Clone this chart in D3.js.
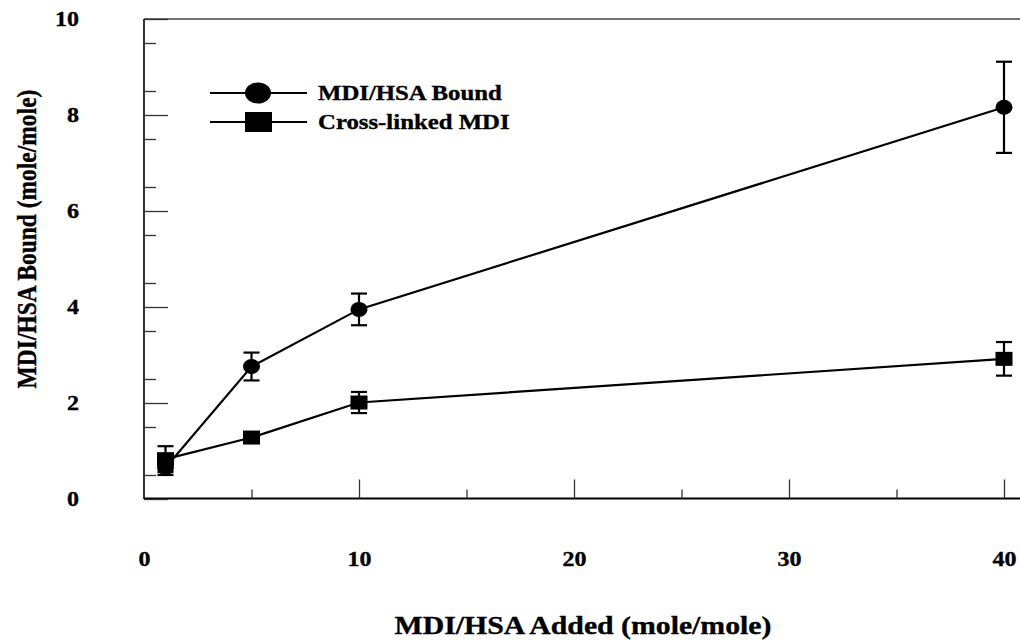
<!DOCTYPE html>
<html>
<head>
<meta charset="utf-8">
<script src="https://cdn.jsdelivr.net/npm/d3@7"></script>
<style>
  html, body { margin: 0; padding: 0; background: #fff; }
  svg { display: block; }
  text { font-family: "Liberation Serif", "Times New Roman", serif; font-weight: bold; fill: #000; stroke: #000; stroke-width: 0.35px; }
</style>
</head>
<body>
<script>
// MDI added per HSA (mole/mole)
const xAdded = [1, 5, 10, 40];
// MDI/HSA bound, mean and error
const boundMean = [0.65, 2.76, 3.95, 8.16];
const boundErr  = [0.15, 0.29, 0.33, 0.95];
// Cross-linked MDI, mean and error
const crossMean = [0.83, 1.28, 2.01, 2.92];
const crossErr  = [0.27, 0.08, 0.22, 0.35];

const xMajorTicks = [0, 10, 20, 30, 40];
const xMinorTicks = [5, 15, 25, 35];
const yMajorTicks = [0, 2, 4, 6, 8, 10];
const yMinorTicks = d3.range(0.5, 10, 1);

const seriesNames = ["MDI/HSA Bound", "Cross-linked MDI"];
const xTitle = "MDI/HSA Added (mole/mole)";
const yTitle = "MDI/HSA Bound (mole/mole)";

const W = 1020, H = 642;
const svg = d3.select("body").append("svg").attr("width", W).attr("height", H);

const x = d3.scaleLinear().domain([0, 40]).range([144, 1004]);
const y = d3.scaleLinear().domain([0, 10]).range([499, 19]);

// widen glyphs horizontally
function stretch(sel, k) {
  sel.each(function () {
    const len = this.getComputedTextLength();
    d3.select(this).attr("textLength", len * k).attr("lengthAdjust", "spacingAndGlyphs");
  });
}

// frame lines
svg.append("line").attr("x1", x(0)).attr("x2", W).attr("y1", y(10)).attr("y2", y(10))
  .attr("stroke", "#444").attr("stroke-width", 1.6);
svg.append("line").attr("x1", x(0)).attr("x2", W).attr("y1", y(0) - 0.5).attr("y2", y(0) - 0.5)
  .attr("stroke", "#000").attr("stroke-width", 2);
svg.append("line").attr("x1", x(0)).attr("x2", x(0)).attr("y1", y(10)).attr("y2", y(0))
  .attr("stroke", "#000").attr("stroke-width", 1.6);

// y axis
const yAxis = svg.append("g").attr("transform", `translate(${x(0)},0)`)
  .call(d3.axisLeft(y).tickValues(yMajorTicks).tickSize(-24).tickPadding(65).tickFormat(d3.format("d")));
const yMinor = svg.append("g").attr("transform", `translate(${x(0)},0)`)
  .call(d3.axisLeft(y).tickValues(yMinorTicks).tickSize(-12).tickFormat(""));

// x axis
const xAxis = svg.append("g").attr("transform", `translate(0,${y(0) - 0.5})`)
  .call(d3.axisBottom(x).tickValues(xMajorTicks).tickSize(-19).tickPadding(53).tickFormat(d3.format("d")));
const xMinor = svg.append("g").attr("transform", `translate(0,${y(0) - 0.5})`)
  .call(d3.axisBottom(x).tickValues(xMinorTicks).tickSize(-9).tickFormat(""));

[yAxis, yMinor, xAxis, xMinor].forEach(g => {
  g.select(".domain").remove();
  g.selectAll(".tick line").attr("stroke", "#333").attr("stroke-width", 1.3);
  g.selectAll("text").attr("font-size", 20)
    .style("font-family", "'Liberation Serif', serif").style("font-weight", "bold");
});
xAxis.selectAll(".tick").filter(d => d === 0).select("line").remove();
stretch(yAxis.selectAll("text"), 1.2);
stretch(xAxis.selectAll("text"), 1.2);

// series lines, error bars and markers
const line = d3.line().x(d => x(d.x)).y(d => y(d.y));
const bound = xAdded.map((v, i) => ({ x: v, y: boundMean[i], e: boundErr[i] }));
const cross = xAdded.map((v, i) => ({ x: v, y: crossMean[i], e: crossErr[i] }));

function drawSeries(data, shape) {
  svg.append("path").datum(data).attr("d", line)
    .attr("fill", "none").attr("stroke", "#000").attr("stroke-width", 2.2);
  const eb = svg.append("g").attr("stroke", "#000").attr("stroke-width", 2.2);
  eb.selectAll(".v").data(data).join("line")
    .attr("x1", d => x(d.x)).attr("x2", d => x(d.x))
    .attr("y1", d => y(d.y - d.e)).attr("y2", d => y(d.y + d.e));
  eb.selectAll(".t").data(data).join("line")
    .attr("x1", d => x(d.x) - 8).attr("x2", d => x(d.x) + 8)
    .attr("y1", d => y(d.y + d.e)).attr("y2", d => y(d.y + d.e));
  eb.selectAll(".b").data(data).join("line")
    .attr("x1", d => x(d.x) - 8).attr("x2", d => x(d.x) + 8)
    .attr("y1", d => y(d.y - d.e)).attr("y2", d => y(d.y - d.e));
  if (shape === "circle") {
    svg.append("g").selectAll("ellipse").data(data).join("ellipse")
      .attr("cx", d => x(d.x)).attr("cy", d => y(d.y)).attr("rx", 8.5).attr("ry", 7.5).attr("fill", "#000");
  } else {
    svg.append("g").selectAll("rect").data(data).join("rect")
      .attr("x", d => x(d.x) - 8.5).attr("y", d => y(d.y) - 7).attr("width", 17).attr("height", 14).attr("fill", "#000");
  }
}
drawSeries(bound, "circle");
drawSeries(cross, "square");

// legend
const legend = svg.append("g");
const rows = [{ name: seriesNames[0], shape: "circle", cy: 93 }, { name: seriesNames[1], shape: "square", cy: 122 }];
rows.forEach(r => {
  legend.append("line").attr("x1", 210).attr("x2", 307).attr("y1", r.cy).attr("y2", r.cy)
    .attr("stroke", "#000").attr("stroke-width", 2);
  if (r.shape === "circle") {
    legend.append("ellipse").attr("cx", 258).attr("cy", r.cy).attr("rx", 13).attr("ry", 10.5).attr("fill", "#000");
  } else {
    legend.append("rect").attr("x", 245).attr("y", r.cy - 10).attr("width", 27).attr("height", 20).attr("fill", "#000");
  }
  const t = legend.append("text").attr("x", 318).attr("y", r.cy + 7).attr("font-size", 21).text(r.name);
  stretch(t, 1.18);
});

// axis titles
const xt = svg.append("text").attr("x", 583).attr("y", 634).attr("text-anchor", "middle")
  .attr("font-size", 25).text(xTitle);
stretch(xt, 1.19);
svg.append("text").attr("transform", "translate(36,239) scale(1.2,1) rotate(-90)").attr("text-anchor", "middle")
  .attr("font-size", 23.5).text(yTitle);
</script>
</body>
</html>
